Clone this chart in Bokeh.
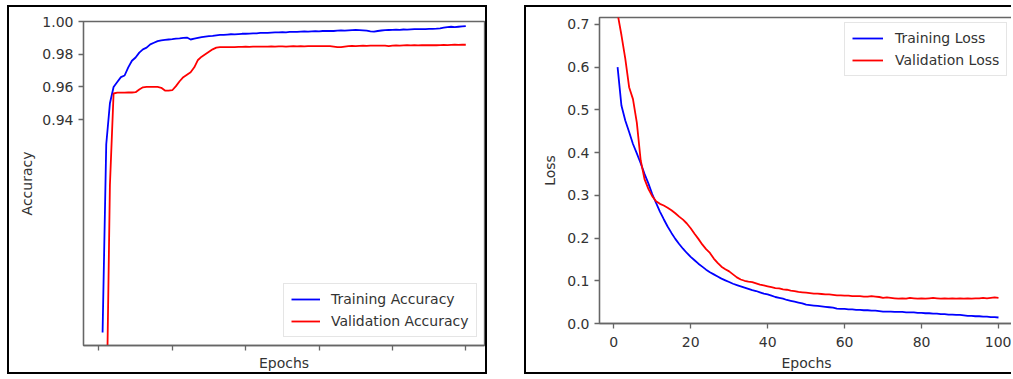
from bokeh.plotting import figure
from bokeh.models import FixedTicker, Legend, LegendItem, Range1d
from bokeh.embed import file_html
from bokeh.resources import INLINE

epochs = list(range(1, 101))

train_acc = [
    0.810, 0.925, 0.950, 0.960, 0.963, 0.966, 0.967, 0.972, 0.976, 0.978,
    0.981, 0.983, 0.984, 0.986, 0.987, 0.988, 0.9885, 0.9888, 0.9890, 0.9892,
    0.9895, 0.9897, 0.9900, 0.9902, 0.9890, 0.9895, 0.9900, 0.9905, 0.9908, 0.9910,
    0.9912, 0.9915, 0.9918, 0.9918, 0.9920, 0.9922, 0.9921, 0.9923, 0.9925, 0.9925,
    0.9926, 0.9928, 0.9927, 0.9930, 0.9931, 0.9930, 0.9932, 0.9933, 0.9934, 0.9935,
    0.9934, 0.9936, 0.9937, 0.9936, 0.9938, 0.9939, 0.9938, 0.9940, 0.9941, 0.9940,
    0.9942, 0.9942, 0.9943, 0.9942, 0.9944, 0.9945, 0.9944, 0.9946, 0.9947, 0.9948,
    0.9947, 0.9946, 0.9944, 0.9940, 0.9938, 0.9942, 0.9945, 0.9947, 0.9948, 0.9949,
    0.9950, 0.9949, 0.9951, 0.9950, 0.9952, 0.9953, 0.9953, 0.9954, 0.9954, 0.9955,
    0.9955, 0.9956, 0.9958, 0.9962, 0.9966, 0.9968, 0.9965, 0.9968, 0.9970, 0.9972,
]

val_acc = [
    0.620, 0.750, 0.900, 0.9560, 0.9565, 0.9565, 0.9565, 0.9566, 0.9566, 0.9568,
    0.9585, 0.9598, 0.9600, 0.9600, 0.9601, 0.9600, 0.9595, 0.9578, 0.9578, 0.9580,
    0.9605, 0.9635, 0.9660, 0.9675, 0.9690, 0.9720, 0.9765, 0.9785, 0.9800, 0.9815,
    0.9830, 0.9840, 0.9843, 0.9843, 0.9844, 0.9843, 0.9844, 0.9845, 0.9845, 0.9846,
    0.9845, 0.9846, 0.9847, 0.9846, 0.9847, 0.9847, 0.9848, 0.9847, 0.9848, 0.9848,
    0.9847, 0.9848, 0.9849, 0.9848, 0.9849, 0.9848, 0.9849, 0.9850, 0.9849, 0.9850,
    0.9849, 0.9850, 0.9849, 0.9846, 0.9843, 0.9843, 0.9847, 0.9850, 0.9851, 0.9850,
    0.9851, 0.9852, 0.9851, 0.9852, 0.9853, 0.9852, 0.9853, 0.9852, 0.9850, 0.9853,
    0.9854, 0.9853, 0.9854, 0.9855, 0.9854, 0.9855, 0.9854, 0.9855, 0.9856, 0.9855,
    0.9856, 0.9855, 0.9856, 0.9857, 0.9856, 0.9857, 0.9858, 0.9857, 0.9858, 0.9858,
]

train_loss = [
    0.600, 0.510, 0.475, 0.448, 0.420, 0.398, 0.375, 0.350, 0.328, 0.303,
    0.282, 0.262, 0.244, 0.227, 0.212, 0.198, 0.186, 0.175, 0.165, 0.156,
    0.148, 0.140, 0.133, 0.126, 0.120, 0.115, 0.110, 0.105, 0.101, 0.097,
    0.093, 0.090, 0.087, 0.084, 0.081, 0.078, 0.076, 0.073, 0.070, 0.068,
    0.065, 0.062, 0.060, 0.058, 0.055, 0.053, 0.051, 0.049, 0.047, 0.044,
    0.043, 0.042, 0.041, 0.040, 0.039, 0.038, 0.037, 0.035, 0.034, 0.034,
    0.033, 0.033, 0.032, 0.032, 0.031, 0.031, 0.030, 0.030, 0.029, 0.028,
    0.028, 0.028, 0.027, 0.027, 0.027, 0.026, 0.026, 0.026, 0.025, 0.025,
    0.024, 0.024, 0.023, 0.023, 0.022, 0.022, 0.021, 0.021, 0.020, 0.020,
    0.019, 0.018, 0.018, 0.017, 0.017, 0.016, 0.016, 0.015, 0.015, 0.014,
]

val_loss = [
    0.725, 0.675, 0.620, 0.553, 0.525, 0.470, 0.382, 0.338, 0.315, 0.298,
    0.286, 0.280, 0.276, 0.271, 0.265, 0.258, 0.250, 0.243, 0.234, 0.223,
    0.210, 0.198, 0.185, 0.174, 0.165, 0.152, 0.142, 0.133, 0.127, 0.122,
    0.115, 0.108, 0.103, 0.100, 0.098, 0.097, 0.094, 0.091, 0.089, 0.087,
    0.085, 0.083, 0.082, 0.080, 0.079, 0.077, 0.076, 0.074, 0.073, 0.072,
    0.071, 0.070, 0.070, 0.069, 0.068, 0.068, 0.067, 0.066, 0.066, 0.065,
    0.065, 0.064, 0.064, 0.064, 0.063, 0.063, 0.064, 0.063, 0.062, 0.060,
    0.061, 0.060, 0.059, 0.058, 0.059, 0.058, 0.060, 0.059, 0.058, 0.059,
    0.058, 0.059, 0.060, 0.059, 0.058, 0.059, 0.058, 0.059, 0.058, 0.059,
    0.058, 0.059, 0.058, 0.059, 0.059, 0.060, 0.059, 0.060, 0.061, 0.060,
]

acc_ticks = [0.94, 0.96, 0.98, 1.00]
acc_tick_labels = ["0.94", "0.96", "0.98", "1.00"]
loss_ticks = [0.0, 0.1, 0.2, 0.3, 0.4, 0.5, 0.6, 0.7]
loss_tick_labels = ["0.0", "0.1", "0.2", "0.3", "0.4", "0.5", "0.6", "0.7"]
epoch_ticks = [0, 20, 40, 60, 80, 100]
epoch_tick_labels = ["0", "20", "40", "60", "80", "100"]

FONT = "DejaVu Sans"
TXT = "#333333"
SPINE = "#666666"


def style(p):
    p.xgrid.visible = False
    p.ygrid.visible = False
    p.background_fill_color = "white"
    p.border_fill_color = "white"
    p.outline_line_color = SPINE
    p.outline_line_width = 1.3
    for ax in (p.xaxis[0], p.yaxis[0]):
        ax.axis_line_color = SPINE
        ax.axis_line_width = 1.3
        ax.major_tick_line_color = SPINE
        ax.major_tick_line_width = 1.3
        ax.major_tick_in = 0
        ax.major_tick_out = 5
        ax.minor_tick_line_color = None
        ax.major_label_text_font = FONT
        ax.major_label_text_font_size = "14px"
        ax.major_label_text_color = TXT
        ax.major_label_standoff = 5
        ax.axis_label_text_font = FONT
        ax.axis_label_text_font_size = "14px"
        ax.axis_label_text_font_style = "normal"
        ax.axis_label_text_color = TXT


def legend(p, items, loc, glyph_w, standoff):
    lg = Legend(items=items, location=loc)
    lg.label_text_font = FONT
    lg.label_text_font_size = "14px"
    lg.label_text_color = TXT
    lg.border_line_color = "#cccccc"
    lg.border_line_width = 1
    lg.background_fill_alpha = 0.8
    lg.glyph_width = glyph_w
    lg.glyph_height = 16
    lg.label_height = 16
    lg.label_standoff = standoff
    lg.spacing = 6
    lg.padding = 7
    lg.margin = 0
    p.add_layout(lg)


# ---- Accuracy panel (canvas 480x369, 2px black border outside)
p1 = figure(width=480, height=369, output_backend="svg", toolbar_location=None, title=None,
            x_range=Range1d(-4.2, 105.1), y_range=Range1d(0.802, 1.0),
            min_border_left=74, min_border_right=5, min_border_top=14, min_border_bottom=31)
style(p1)
r1 = p1.line(epochs, train_acc, line_color="#0000ff", line_width=1.8)
r2 = p1.line(epochs, val_acc, line_color="#ff0000", line_width=1.8)
p1.yaxis.ticker = FixedTicker(ticks=acc_ticks)
p1.yaxis.major_label_overrides = dict(zip(acc_ticks, acc_tick_labels))
p1.xaxis.ticker = FixedTicker(ticks=epoch_ticks)
p1.xaxis.major_label_text_color = None
p1.xaxis.major_label_standoff = 0
p1.xaxis.axis_label = "Epochs"
p1.xaxis.axis_label_standoff = 4
p1.yaxis.axis_label = "Accuracy"
p1.yaxis.axis_label_standoff = 4
legend(p1, [LegendItem(label="Training Accuracy", renderers=[r1]),
            LegendItem(label="Validation Accuracy", renderers=[r2])], (200, 8), 29, 11)
p1.styles = {"position": "absolute", "left": "7px", "top": "5px",
             "border": "2px solid black"}

# ---- Loss panel (canvas 487x369, border on left/top/bottom)
p2 = figure(width=487, height=369, output_backend="svg", toolbar_location=None, title=None,
            x_range=Range1d(-3.7, 103.9), y_range=Range1d(0.0, 0.716),
            min_border_left=73, min_border_right=0, min_border_top=10, min_border_bottom=53)
style(p2)
r3 = p2.line(epochs, train_loss, line_color="#0000ff", line_width=1.8)
r4 = p2.line(epochs, val_loss, line_color="#ff0000", line_width=1.8)
p2.yaxis.ticker = FixedTicker(ticks=loss_ticks)
p2.yaxis.major_label_overrides = dict(zip(loss_ticks, loss_tick_labels))
p2.xaxis.ticker = FixedTicker(ticks=epoch_ticks)
p2.xaxis.major_label_overrides = dict(zip(epoch_ticks, epoch_tick_labels))
p2.xaxis.major_label_standoff = 8
p2.xaxis.axis_label = "Epochs"
p2.xaxis.axis_label_standoff = 5
p2.yaxis.axis_label = "Loss"
p2.yaxis.axis_label_standoff = 6
legend(p2, [LegendItem(label="Training Loss", renderers=[r3]),
            LegendItem(label="Validation Loss", renderers=[r4])], (245, 247), 31, 12)
p2.styles = {"position": "absolute", "left": "524px", "top": "5px",
             "border-top": "2px solid black", "border-left": "2px solid black",
             "border-bottom": "2px solid black"}

open("out.html", "w").write(file_html([p1, p2], INLINE))
